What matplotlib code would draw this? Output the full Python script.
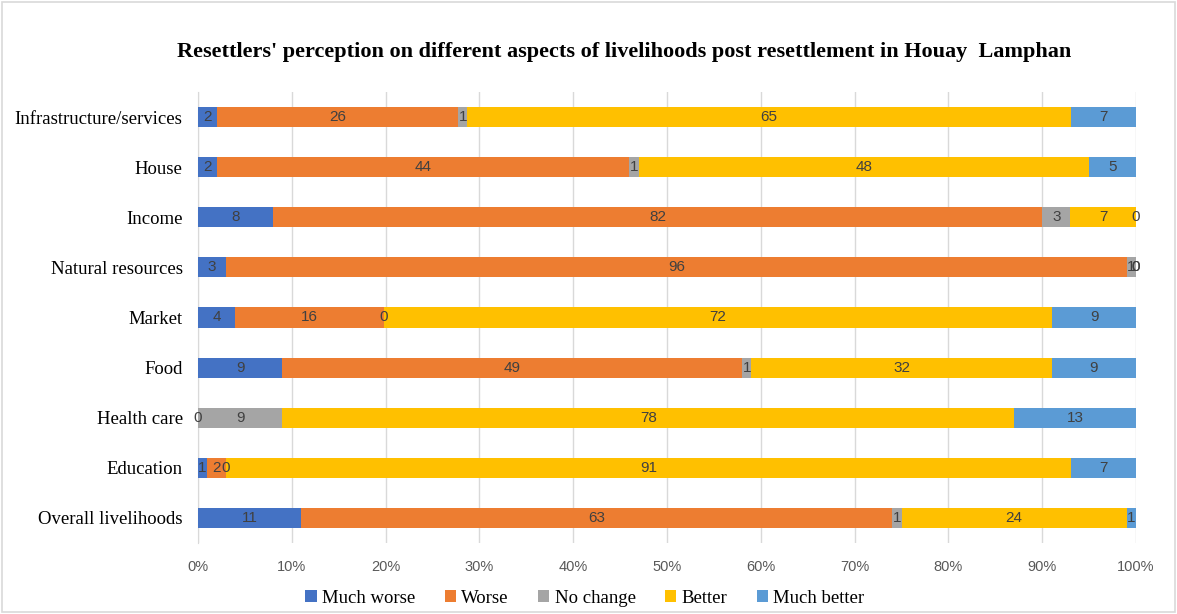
import numpy as np
import matplotlib.pyplot as plt
from matplotlib.patches import Rectangle

plt.rcParams['axes.unicode_minus'] = False

# 各方面的评价（百分比），从下往上画
aspects = ['Overall livelihoods', 'Education', 'Health care', 'Food', 'Market',
           'Natural resources', 'Income', 'House', 'Infrastructure/services']
much_worse = [11, 1, 0, 9, 4, 3, 8, 2, 2]
worse = [63, 2, 0, 49, 16, 96, 82, 44, 26]
no_change = [1, 0, 9, 1, 0, 1, 3, 1, 1]
better = [24, 91, 78, 32, 72, 0, 7, 48, 65]
much_better = [1, 7, 13, 9, 9, 0, 0, 5, 7]

series = [much_worse, worse, no_change, better, much_better]
names = ['Much worse', 'Worse', 'No change', 'Better', 'Much better']
colors = ['#4472C4', '#ED7D31', '#A5A5A5', '#FFC000', '#5B9BD5']

fig = plt.figure(figsize=(11.77, 6.14), dpi=100)
ax = fig.add_axes([0.1682, 0.1156, 0.797, 0.7346])

data = np.array(series, dtype=float)
totals = data.sum(axis=0)
y = np.arange(len(aspects))
left = np.zeros(len(aspects))
for i, (vals, name, c) in enumerate(zip(data, names, colors)):
    w = vals / totals * 100
    ax.barh(y, w, left=left, height=0.4, color=c, label=name, zorder=3)
    for yi, li, wi, v in zip(y, left, w, vals):
        # Health care 的 Worse 为 0，和 Much worse 的 0 重合，只标一次
        if i == 1 and v == 0 and data[0][yi] == 0:
            continue
        ax.text(li + wi / 2, yi, '%d' % v, ha='center', va='center',
                fontsize=11, color='#404040', family='Liberation Sans', zorder=4)
    left += w

ax.set_xlim(0, 100)
ax.set_ylim(-0.5, len(aspects) - 0.5)
ax.set_xticks(np.arange(0, 101, 10))
ax.set_xticklabels(['%d%%' % t for t in range(0, 101, 10)],
                   fontsize=10.5, color='#595959', family='Liberation Sans')
ax.set_yticks(y)
ax.set_yticklabels(aspects, fontsize=13.5, family='Liberation Serif', color='#000000')
ax.tick_params(length=0)
ax.tick_params(axis='y', pad=11)
ax.tick_params(axis='x', pad=12)
ax.grid(axis='x', color='#D9D9D9', linewidth=1, zorder=0)
for s in ['top', 'right', 'bottom']:
    ax.spines[s].set_visible(False)
ax.spines['left'].set_color('#D9D9D9')
ax.spines['left'].set_zorder(2)

fig.text(0.530, 0.916, "Resettlers' perception on different aspects of livelihoods post resettlement in Houay  Lamphan",
         ha='center', va='center', fontsize=16, fontweight='bold', family='Liberation Serif')

leg = fig.legend(loc='center', bbox_to_anchor=(0.497, 0.026), ncol=5, frameon=False,
                 prop={'family': 'Liberation Serif', 'size': 13.5},
                 handlelength=0.6, handleheight=0.6, handletextpad=0.3, columnspacing=1.55)

# 外框
fig.patches.append(Rectangle((0.002, 0.003), 0.996, 0.994, transform=fig.transFigure,
                             fill=False, edgecolor='#D9D9D9', linewidth=1.2))

plt.savefig('out.png', dpi=100)
